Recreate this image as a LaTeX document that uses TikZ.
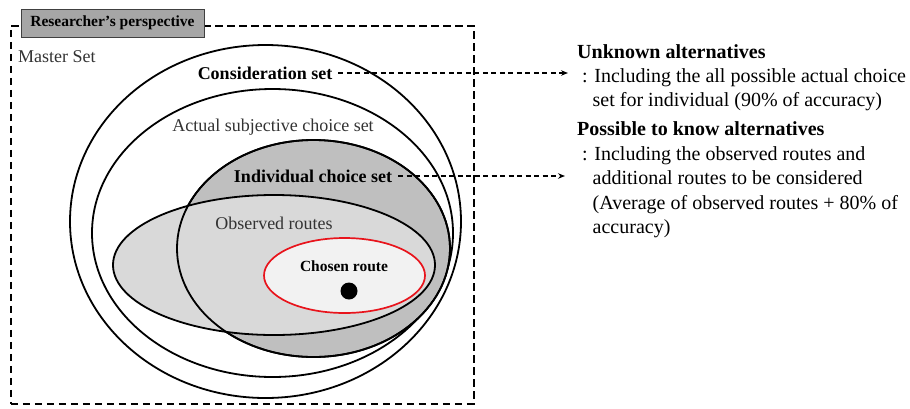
\documentclass[tikz,border=0pt]{standalone}
\usepackage{fontspec}
\setmainfont{Liberation Serif}
\usetikzlibrary{shapes.geometric,arrows.meta}
\definecolor{boxgray}{HTML}{A6A6A6}
\definecolor{indgray}{HTML}{BFBFBF}
\definecolor{obsgray}{HTML}{D9D9D9}
\definecolor{chogray}{HTML}{F2F2F2}
\definecolor{txtgray}{HTML}{333333}
\definecolor{routered}{HTML}{E8141C}
\begin{document}
\begin{tikzpicture}[x=1pt,y=-1pt,
  setline/.style={draw=black,line width=1.8pt},
  ell/.style={ellipse,setline,inner sep=0pt,outer sep=0pt},
  lbl/.style={inner sep=1pt,text=txtgray,font=\fontsize{18}{21}\selectfont},
  blbl/.style={inner sep=1pt,text=black,font=\fontsize{18}{21}\selectfont\bfseries},
  rtext/.style={anchor=base west,inner sep=0pt,text=black,font=\fontsize{20}{24}\selectfont},
  rhead/.style={anchor=base west,inner sep=0pt,text=black,font=\fontsize{20}{24}\selectfont\bfseries},
  link/.style={line width=1.2pt,dash pattern=on 5pt off 3.5pt,shorten <=5pt,-{Stealth[length=7pt,width=5.5pt]}}
]
\fill[white] (0,0) rectangle (910,408);
\useasboundingbox (0,0) rectangle (910,408);

% master set frame
\node[draw=black,line width=1.7pt,dash pattern=on 7.5pt off 4.5pt,minimum width=463pt,minimum height=378pt,anchor=north west,inner sep=0pt] (master) at (10,25) {};
\node[draw=black!75,fill=boxgray,line width=0.8pt,minimum width=183pt,minimum height=28pt,inner sep=0pt,font=\fontsize{15.5}{18}\selectfont\bfseries] (rp) at (112.5,23) {Researcher's perspective};
\node[lbl,anchor=west] (ms) at (17,57) {Master Set};

% ellipses
\node[ell,minimum width=391pt,minimum height=353pt] (cons) at (265.5,221.5) {};
\node[ell,minimum width=361pt,minimum height=288pt] (act) at (272.5,233) {};
\node[ell,fill=indgray,minimum width=273pt,minimum height=217pt] (ind) at (313.5,248.5) {};
\node[ell,fill=obsgray,minimum width=322pt,minimum height=140pt] (obs) at (274,265) {};
\draw[setline] (ind.center) ellipse [x radius=136.5pt,y radius=108.5pt];
\node[ellipse,draw=routered,line width=1.7pt,fill=chogray,inner sep=0pt,minimum width=161pt,minimum height=75pt] (cho) at (344.5,275.5) {};
\node[circle,fill=black,inner sep=0pt,minimum size=17pt] (dot) at (349,291) {};

% labels
\node[blbl] (consl) at (265,73) {Consideration set};
\node[lbl] (actl) at (273,127) {Actual subjective choice set};
\node[blbl] (indl) at (313,176) {Individual choice set};
\node[lbl] (obsl) at (274,223) {Observed routes};
\node[inner sep=1pt,font=\fontsize{15.5}{18}\selectfont\bfseries] (chol) at (344,266) {Chosen route};

% right side texts
\node[rhead] (u1) at (577,58.5) {Unknown alternatives};
\node[rtext] (u2) at (582,82) {: Including the all possible actual choice};
\node[rtext] (u3) at (592.5,106.5) {set for individual (90\% of accuracy)};
\node[rhead] (p1) at (577,135) {Possible to know alternatives};
\node[rtext] (p2) at (582,160) {: Including the observed routes and};
\node[rtext] (p3) at (592.5,184.5) {additional routes to be considered};
\node[rtext] (p4) at (592.5,209) {(Average of observed routes + 80\% of};
\node[rtext] (p5) at (592.5,233.5) {accuracy)};

% connectors
\coordinate (a1) at (568,73);
\coordinate (a2) at (565,176);
\draw[link] (consl.east) -- (consl.east -| a1);
\draw[link] (indl.east) -- (indl.east -| a2);
\end{tikzpicture}
\end{document}
